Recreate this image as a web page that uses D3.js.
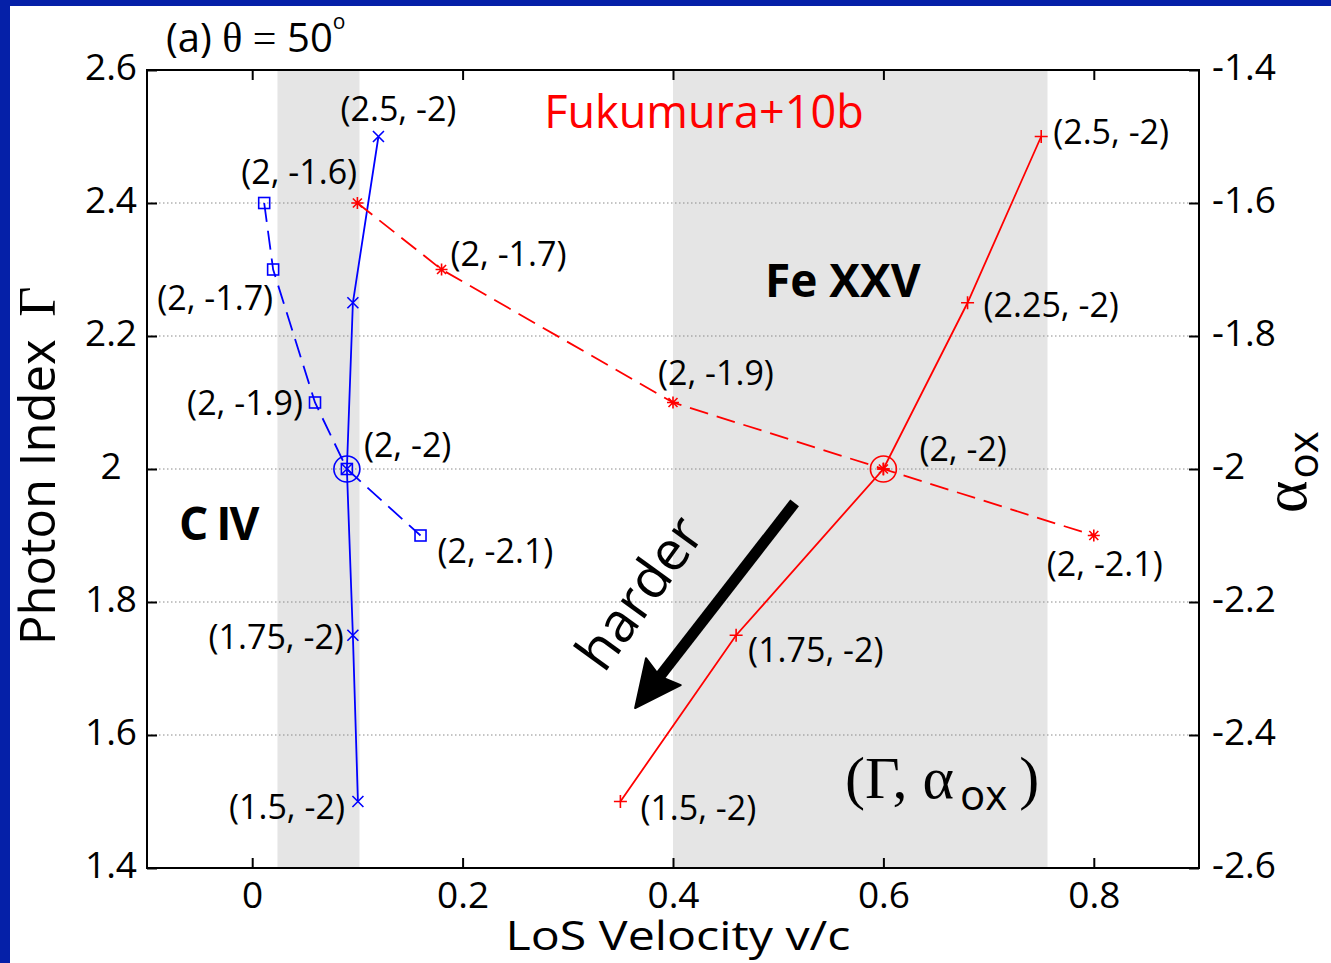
<!DOCTYPE html>
<html><head><meta charset="utf-8">
<script src="https://cdn.jsdelivr.net/npm/d3@7"></script>
<style>
html,body{margin:0;padding:0;background:#fff;}
svg{display:block;}
</style></head>
<body>
<svg id="chart" width="1331" height="963"></svg>
<script>
// Axis ticks
const xTicks = [0, 0.2, 0.4, 0.6, 0.8];
const gammaTicks = [1.4, 1.6, 1.8, 2.0, 2.2, 2.4, 2.6];
const aoxTicks = [-2.6, -2.4, -2.2, -2.0, -1.8, -1.6, -1.4];
const gammaGrid = [1.6, 1.8, 2.0, 2.2, 2.4];

// Observed velocity ranges (v/c) for the two absorbers
const bandCIV = [0.024, 0.102];
const bandFeXXV = [0.4, 0.756];

// Model grid: Γ varied with αox = -2, and αox varied with Γ = 2
const gammaSteps = [1.5, 1.75, 2, 2.25, 2.5];
const aoxSteps = [-1.6, -1.7, -1.9, -2, -2.1];
const fixedAox = -2;
const fixedGamma = 2;

// Line-of-sight velocities at each step
const civVelGamma = [0.1005, 0.0957, 0.09, 0.0957, 0.12];
const civVelAox = [0.0114, 0.0199, 0.0597, 0.09, 0.16];
const fexxvVelGamma = [0.35, 0.46, 0.6, 0.68, 0.75];
const fexxvVelAox = [0.1, 0.18, 0.4, 0.6, 0.8];

// Fiducial (Γ, αox) = (2, -2) velocities
const civFiducialVel = 0.09;
const fexxvFiducialVel = 0.6;

// "harder" arrow, in (v/c, Γ)
const harderFrom = [0.5156, 1.949];
const harderTo = [0.364, 1.6406];

// Label placement per point: [dx, dy, anchor] or null
const civGammaLabel = [[-13, 17, "end"], [-9, 14, "end"], [17, -12, "start"], null, [20, -16, "middle"]];
const civAoxLabel = [[35, -19, "middle"], [0, 40, "end"], [-12, 12, "end"], null, [17, 27, "start"]];
const fexxvGammaLabel = [[20, 18, "start"], [12, 27, "start"], [36, -8, "start"], [16, 14, "start"], [12, 7, "start"]];
const fexxvAoxLabel = [null, [9, -4, "start"], [-15, -18, "start"], null, [-47, 40, "start"]];

const SANS = "'Open Sans', 'DejaVu Sans', sans-serif";
const SERIF = "'Liberation Serif', 'DejaVu Serif', serif";
const BLUE = "#0000ff", RED = "#ff0000";

const svg = d3.select("#chart");
const W = 1331, H = 963;
const m = {l: 147, r: 1199, t: 70, b: 868};

const x = d3.scaleLinear().domain([-0.1, 0.9]).range([m.l, m.r]);
const yG = d3.scaleLinear().domain([1.4, 2.6]).range([m.b, m.t]);
const yA = d3.scaleLinear().domain([-2.6, -1.4]).range([m.b, m.t]);

// page background and blue border strips
svg.append("rect").attr("width", W).attr("height", H).attr("fill", "#fff");
svg.append("rect").attr("x", 0).attr("y", 0).attr("width", 10).attr("height", H).attr("fill", "#0520a8");
svg.append("rect").attr("x", 0).attr("y", 0).attr("width", W).attr("height", 6).attr("fill", "#0520a8");

// shaded velocity bands
[bandCIV, bandFeXXV].forEach(b => {
  svg.append("rect")
    .attr("x", x(b[0])).attr("y", m.t)
    .attr("width", x(b[1]) - x(b[0])).attr("height", m.b - m.t)
    .attr("fill", "#e5e5e5");
});

// dotted horizontal grid
svg.append("g").selectAll("line").data(gammaGrid).join("line")
  .attr("x1", m.l).attr("x2", m.r)
  .attr("y1", d => yG(d)).attr("y2", d => yG(d))
  .attr("stroke", "#8a8a8a").attr("stroke-width", 1)
  .attr("stroke-dasharray", "1.5,2.5");

// axes with inward ticks
function styleAxis(g) {
  g.select(".domain").remove();
  g.selectAll(".tick line").attr("stroke", "#000").attr("stroke-width", 2);
  g.selectAll(".tick text").attr("fill", "#000").attr("font-family", SANS).attr("font-size", 37);
}
const fmt = d => String(+d.toFixed(2));

svg.append("g").attr("transform", `translate(0,${m.b})`)
  .call(d3.axisBottom(x).tickValues(xTicks).tickFormat(fmt).tickSizeInner(-10).tickSizeOuter(0).tickPadding(13))
  .call(styleAxis)
  .call(g => g.selectAll(".tick text").attr("dy", "0.72em"));

svg.append("g").attr("transform", `translate(0,${m.t})`)
  .call(d3.axisTop(x).tickValues(xTicks).tickFormat("").tickSizeInner(-10).tickSizeOuter(0))
  .call(styleAxis);

svg.append("g").attr("transform", `translate(${m.l},0)`)
  .call(d3.axisLeft(yG).tickValues(gammaTicks).tickFormat(fmt).tickSizeInner(-10).tickSizeOuter(0).tickPadding(36))
  .call(styleAxis)
  .call(g => g.selectAll(".tick text").attr("text-anchor", "middle").attr("dy", "0.25em"));

svg.append("g").attr("transform", `translate(${m.r},0)`)
  .call(d3.axisRight(yA).tickValues(aoxTicks).tickFormat(fmt).tickSizeInner(-10).tickSizeOuter(0).tickPadding(13))
  .call(styleAxis)
  .call(g => g.selectAll(".tick text").attr("dy", "0.25em"));

// frame
svg.append("rect").attr("x", m.l).attr("y", m.t)
  .attr("width", m.r - m.l).attr("height", m.b - m.t)
  .attr("fill", "none").attr("stroke", "#000").attr("stroke-width", 2);

// series
const line = d3.line().x(d => d[0]).y(d => d[1]);
function series(vels, ys, yScale, color, dashed, marker, labels, labelVals) {
  const pts = vels.map((v, i) => [x(v), yScale(ys[i])]);
  svg.append("path").attr("d", line(pts))
    .attr("fill", "none").attr("stroke", color).attr("stroke-width", 1.8)
    .attr("stroke-dasharray", dashed ? "19,9" : null);
  const g = svg.append("g").attr("stroke", color).attr("stroke-width", 1.6).attr("fill", "none");
  pts.forEach(p => {
    const [px, py] = p;
    if (marker === "x") {
      const s = 5.5;
      g.append("path").attr("d", `M${px - s},${py - s}L${px + s},${py + s}M${px - s},${py + s}L${px + s},${py - s}`);
    } else if (marker === "square") {
      const s = 5.5;
      g.append("rect").attr("x", px - s).attr("y", py - s).attr("width", 2 * s).attr("height", 2 * s);
    } else if (marker === "plus") {
      const s = 6.5;
      g.append("path").attr("d", `M${px - s},${py}L${px + s},${py}M${px},${py - s}L${px},${py + s}`);
    } else if (marker === "star") {
      const s = 6, d = 4.5;
      g.append("path").attr("d", `M${px - s},${py}L${px + s},${py}M${px},${py - s}L${px},${py + s}M${px - d},${py - d}L${px + d},${py + d}M${px - d},${py + d}L${px + d},${py - d}`);
    }
  });
  labels.forEach((lab, i) => {
    if (!lab) return;
    svg.append("text")
      .attr("x", pts[i][0] + lab[0]).attr("y", pts[i][1] + lab[1])
      .attr("text-anchor", lab[2])
      .attr("font-family", SANS).attr("font-size", 34).attr("fill", "#000")
      .text(labelVals[i]);
  });
}
const gammaText = gammaSteps.map(g => `(${g}, ${fixedAox})`);
const aoxText = aoxSteps.map(a => `(${fixedGamma}, ${a})`);

series(civVelAox, aoxSteps, yA, BLUE, true, "square", civAoxLabel, aoxText);
series(civVelGamma, gammaSteps, yG, BLUE, false, "x", civGammaLabel, gammaText);
series(fexxvVelAox, aoxSteps, yA, RED, true, "star", fexxvAoxLabel, aoxText);
series(fexxvVelGamma, gammaSteps, yG, RED, false, "plus", fexxvGammaLabel, gammaText);

// fiducial circles
svg.append("circle").attr("cx", x(civFiducialVel)).attr("cy", yG(fixedGamma)).attr("r", 13)
  .attr("fill", "none").attr("stroke", BLUE).attr("stroke-width", 1.6);
svg.append("circle").attr("cx", x(fexxvFiducialVel)).attr("cy", yG(fixedGamma)).attr("r", 13)
  .attr("fill", "none").attr("stroke", RED).attr("stroke-width", 1.6);

// "harder" arrow
{
  const x0 = x(harderFrom[0]), y0 = yG(harderFrom[1]);
  const x1 = x(harderTo[0]), y1 = yG(harderTo[1]);
  const dx = x1 - x0, dy = y1 - y0, len = Math.hypot(dx, dy);
  const ux = dx / len, uy = dy / len, nx = -uy, ny = ux;
  const hl = 46, hw = 22;
  const bx = x1 - hl * ux, by = y1 - hl * uy;
  svg.append("line").attr("x1", x0).attr("y1", y0).attr("x2", bx + 8 * ux).attr("y2", by + 8 * uy)
    .attr("stroke", "#000").attr("stroke-width", 11);
  svg.append("path")
    .attr("d", `M${x1},${y1}L${bx + hw * nx},${by + hw * ny}L${bx + 6 * ux},${by + 6 * uy}L${bx - hw * nx},${by - hw * ny}Z`)
    .attr("fill", "#000").attr("stroke", "#000").attr("stroke-width", 2).attr("stroke-linejoin", "round");
}
svg.append("text").attr("transform", "translate(655,604) rotate(-54)")
  .attr("text-anchor", "middle").attr("font-family", SANS).attr("font-size", 55)
  .text("harder");

// annotations
svg.append("text").attr("x", 704).attr("y", 128).attr("text-anchor", "middle")
  .attr("font-family", SANS).attr("font-size", 45).attr("fill", RED).text("Fukumura+10b");
svg.append("text").attr("x", 765).attr("y", 297)
  .attr("font-family", SANS).attr("font-weight", "bold").attr("font-size", 46).text("Fe XXV");
svg.append("text").attr("x", 179).attr("y", 540)
  .attr("font-family", SANS).attr("font-weight", "bold").attr("font-size", 46)
  .attr("letter-spacing", -2).text("C IV");

// (Γ, αox) legend
{
  const t = svg.append("text").attr("x", 845).attr("y", 798).attr("font-family", SERIF).attr("font-size", 60);
  t.append("tspan").text("(Γ, α");
  t.append("tspan").attr("font-family", SANS).attr("font-size", 42).attr("dx", 6).attr("dy", 12).text("ox");
  t.append("tspan").attr("dx", 12).attr("dy", -12).text(")");
}

// title
{
  const t = svg.append("text").attr("x", 166).attr("y", 52).attr("font-family", SANS).attr("font-size", 40);
  t.append("tspan").text("(a) ");
  t.append("tspan").attr("font-family", SERIF).attr("font-size", 42).text("θ");
  t.append("tspan").attr("font-family", SERIF).attr("font-size", 42).text(" = ");
  t.append("tspan").text("50");
  t.append("tspan").attr("font-size", 21).attr("dy", -23).text("o");
}

// axis titles
svg.append("text").attr("x", 678).attr("y", 950).attr("text-anchor", "middle")
  .attr("font-family", SANS).attr("font-size", 40)
  .attr("textLength", 345).attr("lengthAdjust", "spacingAndGlyphs")
  .text("LoS Velocity  v/c");
{
  const t = svg.append("text").attr("transform", "translate(55,645) rotate(-90)")
    .attr("font-family", SANS).attr("font-size", 49);
  t.append("tspan").text("Photon Index ");
  t.append("tspan").attr("font-family", SERIF).attr("font-size", 52).attr("dx", 10).text("Γ");
}
{
  const t = svg.append("text").attr("transform", "translate(1306,513) rotate(-90)")
    .attr("font-family", SERIF).attr("font-size", 62);
  t.append("tspan").text("α");
  t.append("tspan").attr("font-family", SANS).attr("font-size", 42).attr("dy", 12).attr("dx", 2).text("ox");
}
</script>
</body></html>
